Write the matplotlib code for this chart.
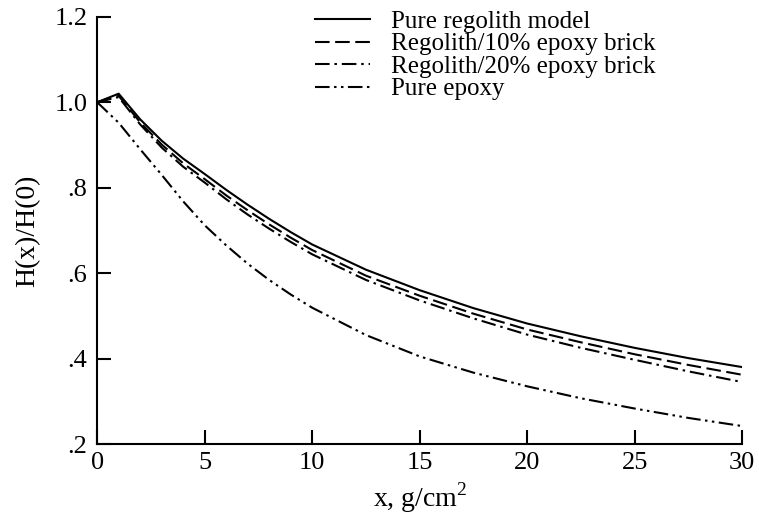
"""
H(x)/H(0) vs depth for regolith / epoxy shields
"""
import matplotlib
matplotlib.use('Agg')
import matplotlib.pyplot as plt
from matplotlib.ticker import FuncFormatter

plt.rcParams['font.family'] = 'Liberation Serif'
plt.rcParams['mathtext.fontset'] = 'custom'
plt.rcParams['mathtext.rm'] = 'Liberation Serif'
plt.rcParams['lines.scale_dashes'] = False

# depth, g/cm^2
x = [0, 1, 2, 3, 4, 5, 6, 7, 8, 9, 10, 12.5, 15, 17.5, 20, 22.5, 25, 27.5, 30]
pure_regolith = [1.0, 1.02, 0.96, 0.91, 0.868, 0.832, 0.795, 0.760, 0.727, 0.696,
                 0.667, 0.608, 0.560, 0.518, 0.482, 0.452, 0.425, 0.401, 0.380]
epoxy10 = [1.0, 1.015, 0.953, 0.901, 0.857, 0.820, 0.782, 0.747, 0.714, 0.683,
           0.654, 0.594, 0.547, 0.505, 0.468, 0.438, 0.410, 0.385, 0.362]
epoxy20 = [1.0, 1.012, 0.948, 0.894, 0.849, 0.812, 0.773, 0.737, 0.704, 0.673,
           0.644, 0.584, 0.536, 0.494, 0.456, 0.425, 0.397, 0.370, 0.345]
pure_epoxy = [1.0, 0.952, 0.890, 0.830, 0.768, 0.712, 0.665, 0.622, 0.584, 0.550,
              0.519, 0.455, 0.405, 0.367, 0.335, 0.307, 0.283, 0.261, 0.242]

labels = ['Pure regolith model', 'Regolith/10% epoxy brick',
          'Regolith/20% epoxy brick', 'Pure epoxy']

fig = plt.figure(figsize=(7.59, 5.16), dpi=100)
ax = fig.add_axes([0.128, 0.1395, 0.850, 0.828])

lw = 1.5
ax.plot(x, pure_regolith, c='black', lw=lw, label=labels[0])
ax.plot(x, epoxy10, c='black', lw=lw, dashes=(10.5, 4.0), label=labels[1])
ax.plot(x, epoxy20, c='black', lw=lw, dashes=(10.5, 3.5, 1.8, 3.5), label=labels[2])
ax.plot(x, pure_epoxy, c='black', lw=lw, dashes=(10.5, 3.2, 1.8, 3.2, 1.8, 3.2),
        label=labels[3])

ax.set_xlim(0, 30)
ax.set_ylim(0.2, 1.2)
ax.set_xticks([0, 5, 10, 15, 20, 25, 30])
ax.set_yticks([0.2, 0.4, 0.6, 0.8, 1.0, 1.2])


def yfmt(v, pos):
    s = '%.1f' % v
    return s[1:] if s.startswith('0') else s


ax.yaxis.set_major_formatter(FuncFormatter(yfmt))
ax.spines['top'].set_visible(False)
ax.spines['right'].set_visible(False)
for s in ('left', 'bottom'):
    ax.spines[s].set_linewidth(1.5)
ax.tick_params(direction='in', length=10, width=1.5, labelsize=19)
ax.tick_params(axis='x', pad=6)
ax.tick_params(axis='y', pad=7)

ax.set_xlabel(r'x, g/cm$^{\mathrm{2}}$', fontsize=20, labelpad=4)
ax.set_ylabel('H(x)/H(0)', fontsize=20, labelpad=10)

ax.legend(loc='upper left', bbox_to_anchor=(0.338, 1.015), frameon=False,
          fontsize=18, handlelength=2.2, handletextpad=0.85, labelspacing=0.0,
          borderaxespad=0, borderpad=0)

plt.savefig('out.png')
